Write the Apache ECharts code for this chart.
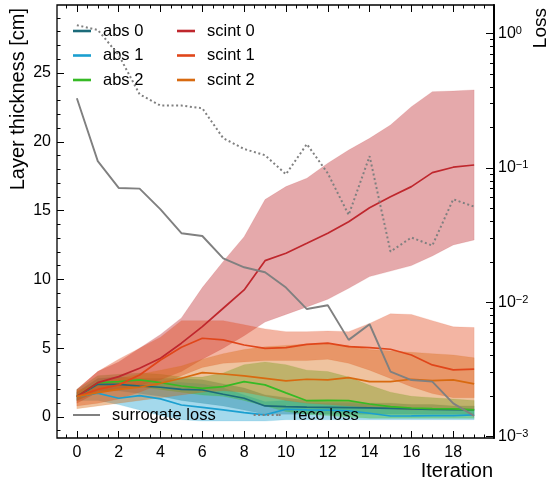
<!DOCTYPE html>
<html>
<head>
<meta charset="utf-8">
<script src="https://cdn.jsdelivr.net/npm/echarts@6/dist/echarts.min.js"></script>
<style>
  html, body { margin: 0; padding: 0; background: #fff; }
  #chart { width: 556px; height: 487px; }
</style>
</head>
<body>
<div id="chart"></div>
<script>
// Optimisation iterations
const iterations = [0, 1, 2, 3, 4, 5, 6, 7, 8, 9, 10, 11, 12, 13, 14, 15, 16, 17, 18, 19];

// Absorber layer thickness [cm]: mean and spread
const abs0Mean = [1.48, 2.37, 2.37, 2.25, 2.16, 2.01, 1.96, 1.65, 1.36, 0.80, 0.75, 0.72, 0.70, 0.68, 0.66, 0.62, 0.58, 0.55, 0.53, 0.51];
const abs0Lo   = [1.2, 1.9, 1.9, 1.7, 1.5, 1.2, 1.0, 0.8, 0.5, 0.2, 0.2, 0.2, 0.2, 0.2, 0.2, 0.2, 0.2, 0.2, 0.2, 0.2];
const abs0Hi   = [1.8, 2.8, 2.9, 2.8, 2.8, 2.8, 2.7, 2.4, 2.1, 1.6, 1.4, 1.2, 1.1, 1.1, 1.0, 1.0, 0.9, 0.9, 0.8, 0.8];

const abs1Mean = [1.48, 1.72, 1.36, 1.55, 1.31, 0.87, 0.70, 0.51, 0.31, 0.15, 0.56, 0.51, 0.50, 0.45, 0.27, 0.07, 0.08, 0.10, 0.10, 0.15];
const abs1Lo   = [1.2, 1.2, 0.9, 0.5, 0.1, -0.2, -0.3, -0.3, -0.3, -0.3, -0.2, -0.2, -0.2, -0.2, -0.2, -0.2, -0.2, -0.2, -0.2, -0.2];
const abs1Hi   = [1.8, 2.4, 2.3, 2.4, 2.5, 2.5, 2.4, 2.1, 1.6, 1.1, 1.2, 1.0, 1.0, 1.0, 0.9, 0.7, 0.6, 0.6, 0.6, 0.6];

const abs2Mean = [1.48, 2.49, 2.57, 2.69, 2.49, 2.25, 2.08, 2.20, 2.57, 2.33, 1.75, 1.18, 1.20, 1.18, 0.94, 0.75, 0.65, 0.60, 0.58, 0.51];
const abs2Lo   = [1.2, 1.8, 2.0, 2.2, 2.0, 1.8, 1.6, 1.5, 1.2, 0.8, 0.4, 0.2, 0.1, 0.0, -0.1, -0.1, -0.1, -0.1, -0.1, -0.1];
const abs2Hi   = [2.0, 3.0, 3.1, 3.2, 3.1, 2.9, 2.9, 3.2, 3.8, 4.0, 3.8, 3.4, 3.3, 2.9, 2.3, 1.8, 1.5, 1.4, 1.3, 1.2];

// Scintillator layer thickness [cm]: mean and spread
const scint0Mean = [1.48, 2.49, 2.93, 3.54, 4.27, 5.36, 6.56, 7.90, 9.23, 11.36, 11.90, 12.62, 13.35, 14.19, 15.20, 16.01, 16.74, 17.76, 18.15, 18.31];
const scint0Lo   = [1.0, 1.8, 2.0, 2.3, 2.7, 3.3, 4.2, 5.0, 5.9, 6.9, 7.45, 8.0, 8.55, 9.35, 10.2, 10.6, 11.0, 11.7, 12.5, 12.86];
const scint0Hi   = [2.0, 3.3, 4.0, 5.0, 6.0, 7.2, 9.4, 11.3, 13.1, 15.8, 16.74, 17.35, 18.44, 19.4, 20.25, 21.22, 22.55, 23.64, 23.69, 23.77];

const scint1Mean = [1.48, 2.00, 2.33, 3.05, 4.14, 5.07, 5.72, 5.60, 5.23, 4.99, 5.04, 5.28, 5.36, 5.11, 5.04, 4.92, 4.50, 3.78, 3.42, 3.47];
const scint1Lo   = [0.8, 1.0, 1.3, 1.8, 2.4, 3.0, 3.6, 3.9, 4.0, 4.1, 4.1, 4.1, 4.2, 3.9, 3.4, 2.8, 2.2, 1.7, 1.4, 1.4];
const scint1Hi   = [2.0, 3.3, 4.2, 5.0, 5.8, 7.0, 7.0, 7.0, 6.7, 6.4, 6.2, 6.2, 6.25, 6.2, 6.8, 7.5, 7.45, 7.0, 6.55, 6.5];

const scint2Mean = [1.48, 1.77, 2.01, 2.16, 2.45, 2.81, 3.22, 3.12, 2.98, 2.81, 2.62, 2.74, 2.69, 2.86, 2.57, 2.57, 2.74, 2.64, 2.69, 2.40];
const scint2Lo   = [0.6, 0.8, 1.0, 1.2, 1.4, 1.6, 1.8, 1.9, 1.8, 1.5, 1.2, 1.0, 0.9, 0.8, 0.7, 0.6, 0.5, 0.5, 0.5, 0.5];
const scint2Hi   = [1.9, 2.4, 2.8, 3.1, 3.4, 3.7, 4.2, 4.6, 4.9, 5.1, 5.2, 5.3, 5.3, 5.2, 4.9, 4.8, 4.7, 4.6, 4.5, 4.3];

// Losses (right, logarithmic axis)
const surrogateLoss = [0.329, 0.112, 0.0708, 0.070, 0.049, 0.0326, 0.0311, 0.0212, 0.0182, 0.0167, 0.01285, 0.0089, 0.0095, 0.00525, 0.00686, 0.00305, 0.00264, 0.00257, 0.00177, 0.00143];
const recoLoss      = [1.15, 1.06, 0.69, 0.352, 0.29, 0.29, 0.277, 0.166, 0.138, 0.124, 0.0895, 0.150, 0.091, 0.0446, 0.122, 0.0238, 0.0303, 0.0264, 0.0583, 0.0514];

// Tick positions
const xMajorTicks = [0, 2, 4, 6, 8, 10, 12, 14, 16, 18];
const yMajorTicks = [0, 5, 10, 15, 20, 25];
const lossMajorTicks = [0.001, 0.01, 0.1, 1];

const FONT = '"Liberation Sans", Arial, Helvetica, sans-serif';

const materials = [
  { name: 'abs 0',   mean: abs0Mean,   lo: abs0Lo,   hi: abs0Hi,   color: '#1c6b7a' },
  { name: 'abs 1',   mean: abs1Mean,   lo: abs1Lo,   hi: abs1Hi,   color: '#1b9fd0' },
  { name: 'abs 2',   mean: abs2Mean,   lo: abs2Lo,   hi: abs2Hi,   color: '#36ba25' },
  { name: 'scint 0', mean: scint0Mean, lo: scint0Lo, hi: scint0Hi, color: '#bf272d' },
  { name: 'scint 1', mean: scint1Mean, lo: scint1Lo, hi: scint1Hi, color: '#e0461a' },
  { name: 'scint 2', mean: scint2Mean, lo: scint2Lo, hi: scint2Hi, color: '#d86a10' }
];

function pairs(ys) { return iterations.map((x, i) => [x, ys[i]]); }

// Minor tick positions
const xMinorTicks = [];
for (let v = -0.5; v <= 19.5; v += 0.5) { if (Math.abs(v / 2 - Math.round(v / 2)) > 1e-9) xMinorTicks.push(v); }
const yMinorTicks = [];
for (let v = -1; v <= 29; v++) { if (v % 5 !== 0) yMinorTicks.push(v); }
const lossMinorTicks = [];
[0.001, 0.01, 0.1].forEach(d => { for (let k = 2; k <= 9; k++) lossMinorTicks.push(+(k * d).toPrecision(3)); });

// Spread band: one polygon through the upper edge and back along the lower edge
function bandRenderer(color) {
  return function (params, api) {
    if (params.dataIndex !== 0) return null;
    const upper = [], lower = [];
    for (let i = 0; i < iterations.length; i++) {
      const x = api.value(0, i), lo = api.value(1, i), hi = api.value(2, i);
      upper.push(api.coord([x, hi]));
      lower.push(api.coord([x, lo]));
    }
    return {
      type: 'polygon',
      shape: { points: upper.concat(lower.reverse()) },
      style: { fill: color, opacity: 0.4, stroke: color, lineWidth: 0.6, strokeOpacity: 0.5 },
      silent: true
    };
  };
}

const series = [];
materials.forEach(m => {
  series.push({
    name: m.name + ' spread', type: 'custom', xAxisIndex: 0, yAxisIndex: 0, silent: true,
    data: iterations.map((x, i) => [x, m.lo[i], m.hi[i]]),
    encode: { x: 0, y: [1, 2] },
    renderItem: bandRenderer(m.color),
    clip: true
  });
  series.push({
    name: m.name, type: 'line', data: pairs(m.mean), symbol: 'none', showSymbol: false,
    lineStyle: { color: m.color, width: 1.7 }, itemStyle: { color: m.color },
    xAxisIndex: 0, yAxisIndex: 0
  });
});
series.push({
  name: 'surrogate loss', type: 'line', data: pairs(surrogateLoss), symbol: 'none', showSymbol: false,
  lineStyle: { color: '#808080', width: 1.9 }, itemStyle: { color: '#808080' },
  xAxisIndex: 0, yAxisIndex: 2, z: 5
});
series.push({
  name: 'reco loss', type: 'line', data: pairs(recoLoss), symbol: 'none', showSymbol: false,
  lineStyle: { color: '#808080', width: 2, type: [2, 2.6] }, itemStyle: { color: '#808080' },
  xAxisIndex: 0, yAxisIndex: 2, z: 5
});

const tickStyle = { color: '#000', width: 1 };
const X_MIN = -0.95, X_MAX = 19.95;
const Y_MIN = -1.53, Y_MAX = 29.94;
const L_MIN = Math.pow(10, -3.0097), L_MAX = Math.pow(10, 0.2107);

function xAxisDef(position, ticks, len, labels) {
  return {
    type: 'value', position, min: X_MIN, max: X_MAX, gridIndex: 0,
    axisLine: { show: false, onZero: false }, splitLine: { show: false },
    axisTick: { show: true, inside: true, length: len, lineStyle: tickStyle, customValues: ticks },
    axisLabel: labels
      ? { show: true, customValues: ticks, color: '#000', fontSize: 16, fontFamily: FONT, margin: 7 }
      : { show: false }
  };
}
function yAxisDef(position, ticks, len, labels) {
  return {
    type: 'value', position, min: Y_MIN, max: Y_MAX, gridIndex: 0,
    axisLine: { show: false, onZero: false }, splitLine: { show: false },
    axisTick: { show: true, inside: true, length: len, lineStyle: tickStyle, customValues: ticks },
    axisLabel: labels
      ? { show: true, customValues: ticks, color: '#000', fontSize: 16, fontFamily: FONT, margin: 6 }
      : { show: false }
  };
}
function lossAxisDef(ticks, len, labels) {
  return {
    type: 'log', logBase: 10, position: 'right', min: L_MIN, max: L_MAX, gridIndex: 0,
    axisLine: { show: labels, onZero: false, lineStyle: { color: '#000', width: 2 } }, splitLine: { show: false },
    axisTick: { show: true, inside: true, length: len, lineStyle: tickStyle, customValues: ticks },
    axisLabel: labels ? {
      show: true, customValues: ticks, margin: 4, fontFamily: FONT,
      formatter: v => {
        const e = Math.round(Math.log10(v));
        return '{b|10}{s|' + String(e).replace('-', '\u2212') + '}';
      },
      rich: {
        b: { fontSize: 16, fontFamily: FONT, color: '#000', lineHeight: 16, padding: [2, 0, 0, 0], verticalAlign: 'bottom' },
        s: { fontSize: 11, fontFamily: FONT, color: '#000', lineHeight: 11, verticalAlign: 'top' }
      }
    } : { show: false }
  };
}

const legendText = { fontSize: 16.5, fontFamily: FONT, color: '#000', lineHeight: 18, padding: [0, 0, 0, 7] };
// Legend keys: short solid bars, and a dotted bar for the reco loss
const solidKey = 'path://M0,0H18V2.6H0Z';
const surrogateKey = 'path://M0,0H27V2H0Z';
const dottedKey = 'path://M0,0H2V2H0Z M4.5,0H6.5V2H4.5Z M9,0H11V2H9Z M13.5,0H15.5V2H13.5Z M18,0H20V2H18Z M22.5,0H24.5V2H22.5Z M25,0H27V2H25Z';

const chart = echarts.init(document.getElementById('chart'), null, { renderer: 'canvas' });
chart.setOption({
  animation: false,
  backgroundColor: '#fff',
  grid: { left: 57, right: 62, top: 5, bottom: 49, show: true, borderColor: '#000', borderWidth: 1.3, backgroundColor: 'transparent' },
  xAxis: [
    xAxisDef('bottom', xMajorTicks, 7, true),
    xAxisDef('bottom', xMinorTicks, 3.5, false),
    xAxisDef('top', xMajorTicks, 7, false),
    xAxisDef('top', xMinorTicks, 3.5, false)
  ],
  yAxis: [
    yAxisDef('left', yMajorTicks, 7, true),
    yAxisDef('left', yMinorTicks, 3.5, false),
    lossAxisDef(lossMajorTicks, 8, true),
    lossAxisDef(lossMinorTicks, 4, false)
  ],
  legend: [
    {
      data: ['abs 0', 'abs 1', 'abs 2'].map(n => ({ name: n, icon: solidKey })),
      orient: 'vertical', left: 73, top: 22, padding: 0,
      itemWidth: 18, itemHeight: 2.6, itemGap: 6.5, selectedMode: false, textStyle: legendText
    },
    {
      data: ['scint 0', 'scint 1', 'scint 2'].map(n => ({ name: n, icon: solidKey })),
      orient: 'vertical', left: 177, top: 22, padding: 0,
      itemWidth: 18, itemHeight: 2.6, itemGap: 6.5, selectedMode: false, textStyle: legendText
    },
    {
      data: [{ name: 'surrogate loss', icon: surrogateKey }, { name: 'reco loss', icon: dottedKey }],
      orient: 'horizontal', left: 73, top: 406, padding: 0,
      itemWidth: 27, itemHeight: 2, itemGap: 38, selectedMode: false, textStyle: legendText
    }
  ],
  graphic: [
    { type: 'text', x: 18, y: 8, rotation: Math.PI / 2,
      style: { text: 'Layer thickness [cm]', font: '20px ' + FONT, fill: '#000', textAlign: 'right', textVerticalAlign: 'middle' } },
    { type: 'text', x: 541, y: 8, rotation: Math.PI / 2,
      style: { text: 'Loss', font: '19px ' + FONT, fill: '#000', textAlign: 'right', textVerticalAlign: 'middle' } },
    { type: 'text', x: 493, y: 471,
      style: { text: 'Iteration', font: '20px ' + FONT, fill: '#000', textAlign: 'right', textVerticalAlign: 'middle' } }
  ],
  series
});
</script>
</body>
</html>
